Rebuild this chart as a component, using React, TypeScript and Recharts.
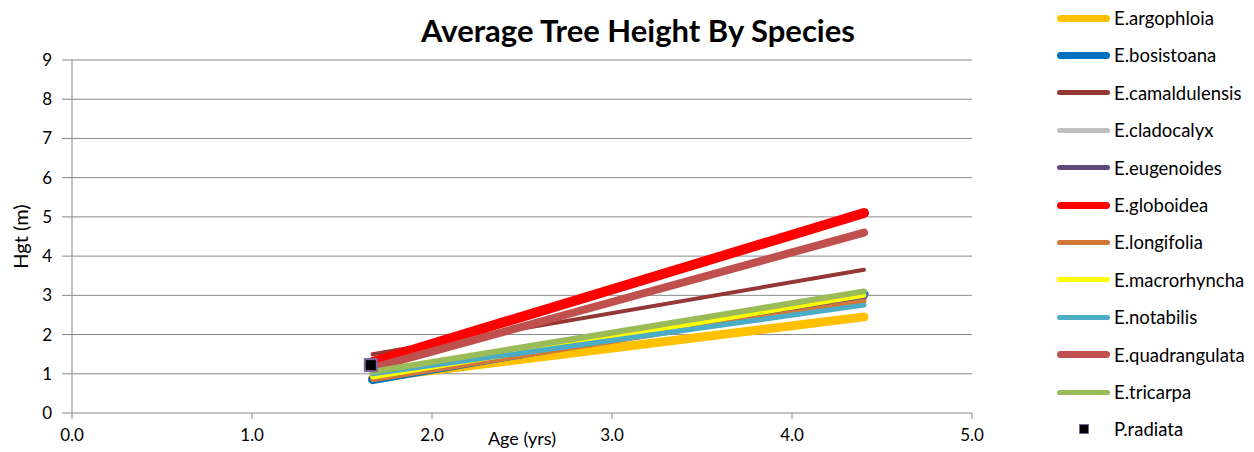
import { ComposedChart, Line, Scatter, XAxis, YAxis, CartesianGrid } from 'recharts';

const ages = [1.67, 4.4];
const argophloia = [0.9, 2.45];
const bosistoana = [0.85, 3.03];
const camaldulensis = [1.5, 3.65];
const cladocalyx = [0.95, 2.9];
const eugenoides = [0.9, 2.93];
const globoidea = [1.3, 5.1];
const longifolia = [0.85, 2.85];
const macrorhyncha = [0.92, 3.0];
const notabilis = [1.0, 2.75];
const quadrangulata = [1.15, 4.6];
const tricarpa = [1.05, 3.1];
const radiata = [{ x: 1.66, y: 1.22 }];

const xTicks = [0, 1, 2, 3, 4, 5];
const yTicks = [0, 1, 2, 3, 4, 5, 6, 7, 8, 9];

const series = [
  { name: 'E.argophloia', values: argophloia, color: '#FFC000', width: 9, legendWidth: 7 },
  { name: 'E.bosistoana', values: bosistoana, color: '#0070C0', width: 9, legendWidth: 7 },
  { name: 'E.camaldulensis', values: camaldulensis, color: '#953735', width: 4, legendWidth: 5 },
  { name: 'E.cladocalyx', values: cladocalyx, color: '#BFBFBF', width: 5, legendWidth: 5 },
  { name: 'E.eugenoides', values: eugenoides, color: '#604A7B', width: 5, legendWidth: 5 },
  { name: 'E.globoidea', values: globoidea, color: '#FF0000', width: 10, legendWidth: 7 },
  { name: 'E.longifolia', values: longifolia, color: '#D0783A', width: 5, legendWidth: 5 },
  { name: 'E.macrorhyncha', values: macrorhyncha, color: '#FFFF00', width: 5, legendWidth: 5 },
  { name: 'E.notabilis', values: notabilis, color: '#4BACC6', width: 5, legendWidth: 5 },
  { name: 'E.quadrangulata', values: quadrangulata, color: '#C0504D', width: 8, legendWidth: 7 },
  { name: 'E.tricarpa', values: tricarpa, color: '#9BBB59', width: 6, legendWidth: 5 },
];

const FONT = 'Lato, "Open Sans", sans-serif';

const Square = (props: any) => {
  const { cx, cy } = props;
  return <rect x={cx - 6} y={cy - 6} width={12} height={12} fill="#000" stroke="#7F64A0" strokeWidth={2} />;
};

const YLabel = (props: any) => {
  const { viewBox } = props;
  const cy = viewBox.y + viewBox.height / 2;
  return (
    <text x={20} y={cy} transform={`rotate(-90 20 ${cy})`} textAnchor="middle" dominantBaseline="central" fill="#000" fontSize={20} fontFamily={FONT}>
      Hgt (m)
    </text>
  );
};

export default function App() {
  return (
    <div style={{ position: 'absolute', left: 0, top: 0, width: 1254, height: 452, background: '#fff', fontFamily: FONT }}>
      <div style={{ position: 'absolute', left: 0, width: 1276, top: 11, textAlign: 'center', fontSize: 31, fontWeight: 700, color: '#000' }}>
        Average Tree Height By Species
      </div>
      <ComposedChart width={1000} height={452} margin={{ top: 60, right: 28, bottom: 9, left: 0 }}>
        <CartesianGrid vertical={false} stroke="#888" horizontalValues={yTicks.slice(1)} />
        <XAxis
          dataKey="x"
          type="number"
          domain={[0, 5]}
          ticks={xTicks}
          tickFormatter={(v: number) => v.toFixed(1)}
          stroke="#888"
          tick={{ fill: '#000', fontSize: 17, fontFamily: FONT }}
          tickSize={6}
          tickMargin={10}
          height={30}
          label={{ value: 'Age (yrs)', position: 'insideBottom', offset: -2, fill: '#000', fontSize: 18, fontFamily: FONT }}
        />
        <YAxis
          type="number"
          domain={[0, 9]}
          ticks={yTicks}
          width={72}
          stroke="#888"
          tick={{ fill: '#000', fontSize: 17, fontFamily: FONT }}
          tickSize={10}
          tickMargin={10}
          label={<YLabel />}
        />
        {series.map((s) => (
          <Line
            key={s.name}
            data={ages.map((a, i) => ({ x: a, y: s.values[i] }))}
            dataKey="y"
            stroke={s.color}
            strokeWidth={s.width}
            strokeLinecap="round"
            dot={false}
            activeDot={false}
            isAnimationActive={false}
          />
        ))}
        <Scatter data={radiata} dataKey="y" shape={<Square />} isAnimationActive={false} />
      </ComposedChart>
      <div style={{ position: 'absolute', left: 1057, top: 0, fontSize: 18.5, color: '#000' }}>
        {series.map((s, i) => (
          <div key={s.name} style={{ position: 'absolute', top: 18 + i * 37.4 - 12, height: 24, display: 'flex', alignItems: 'center', whiteSpace: 'nowrap' }}>
            <div style={{ width: 53, height: s.legendWidth, borderRadius: 4, background: s.color, marginRight: 4 }} />
            <span>{s.name}</span>
          </div>
        ))}
        <div style={{ position: 'absolute', top: 18 + 11 * 37.4 - 12, height: 24, display: 'flex', alignItems: 'center', whiteSpace: 'nowrap' }}>
          <div style={{ width: 53, display: 'flex', justifyContent: 'center', marginRight: 4 }}>
            <div style={{ width: 8, height: 8, background: '#000', border: '1px solid #7F64A0' }} />
          </div>
          <span>P.radiata</span>
        </div>
      </div>
    </div>
  );
}
